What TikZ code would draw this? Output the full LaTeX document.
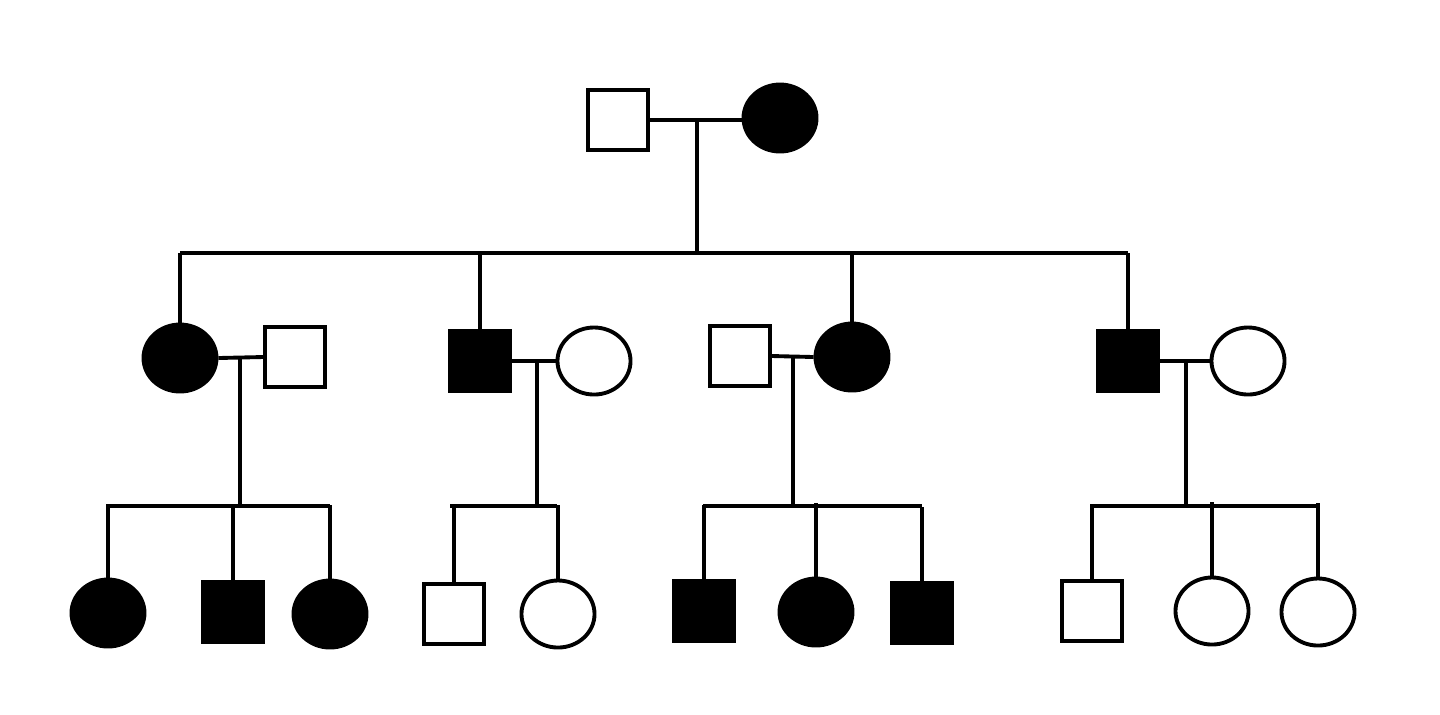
\documentclass[tikz,border=0pt]{standalone}
\usetikzlibrary{shapes.geometric, positioning}
\tikzset{
  male/.style={draw, line width=1.1pt, rectangle, minimum size=0.6cm, inner sep=0pt},
  female/.style={draw, line width=1.1pt, ellipse, minimum width=0.73cm, minimum height=0.67cm, inner sep=0pt},
  aff/.style={fill=black},
  link/.style={line width=1.1pt}
}
\begin{document}
\begin{tikzpicture}[x=0.01cm, y=-0.01cm]
\useasboundingbox (0,0) rectangle (1440,714);

% First generation
\node[male] (gm) at (618,120) {};
\node[female, aff] (gf) at (780,118) {};
\draw[link] (gm) -- (gm -| gf.west);
\coordinate (gj) at (697,120);
\coordinate (gs) at (697,253);
\draw[link] (gj) -- (gs);
\draw[link] (180,253) -- (1128,253);

% Second generation
\node[female, aff] (a1) at (180,358) {};
\node[male] (a2) at (295,357) {};
\node[male, aff] (b1) at (480,361) {};
\node[female] (b2) at (594,361) {};
\node[male] (c1) at (740,356) {};
\node[female, aff] (c2) at (852,357) {};
\node[male, aff] (d1) at (1128,361) {};
\node[female] (d2) at (1248,361) {};
\foreach \n in {a1,b1,c2,d1}
  \draw[link] (\n.north) -- (\n.north |- gs);
\foreach \p/\q in {a1/a2,b1/b2,c1/c2,d1/d2}
  \draw[link] (\p.east) -- (\q.west);

% Sibship lines
\foreach \x/\l/\r/\y in {240/108/330/357,537/450/557/361,793/703/922/356,1186/1090/1316/361}
{
  \draw[link] (\x,\y) -- (\x,506);
  \draw[link] (\l,506) -- (\r,506);
}

% Third generation
\node[female, aff] (e1) at (108,613) {};
\node[male, aff] (e2) at (233,612) {};
\node[female, aff] (e3) at (330,614) {};
\node[male] (f1) at (454,614) {};
\node[female] (f2) at (558,614) {};
\node[male, aff] (g1) at (704,611) {};
\node[female, aff] (g2) at (816,612) {};
\node[male, aff] (g3) at (922,613) {};
\node[male] (h1) at (1092,611) {};
\node[female] (h2) at (1212,611) {};
\node[female] (h3) at (1318,612) {};
\foreach \n in {e1,e2,e3,f1,f2,g1,g2,g3,h1,h2,h3}
  \draw[link] (\n.north) -- ++(0,-74);

\end{tikzpicture}
\end{document}
